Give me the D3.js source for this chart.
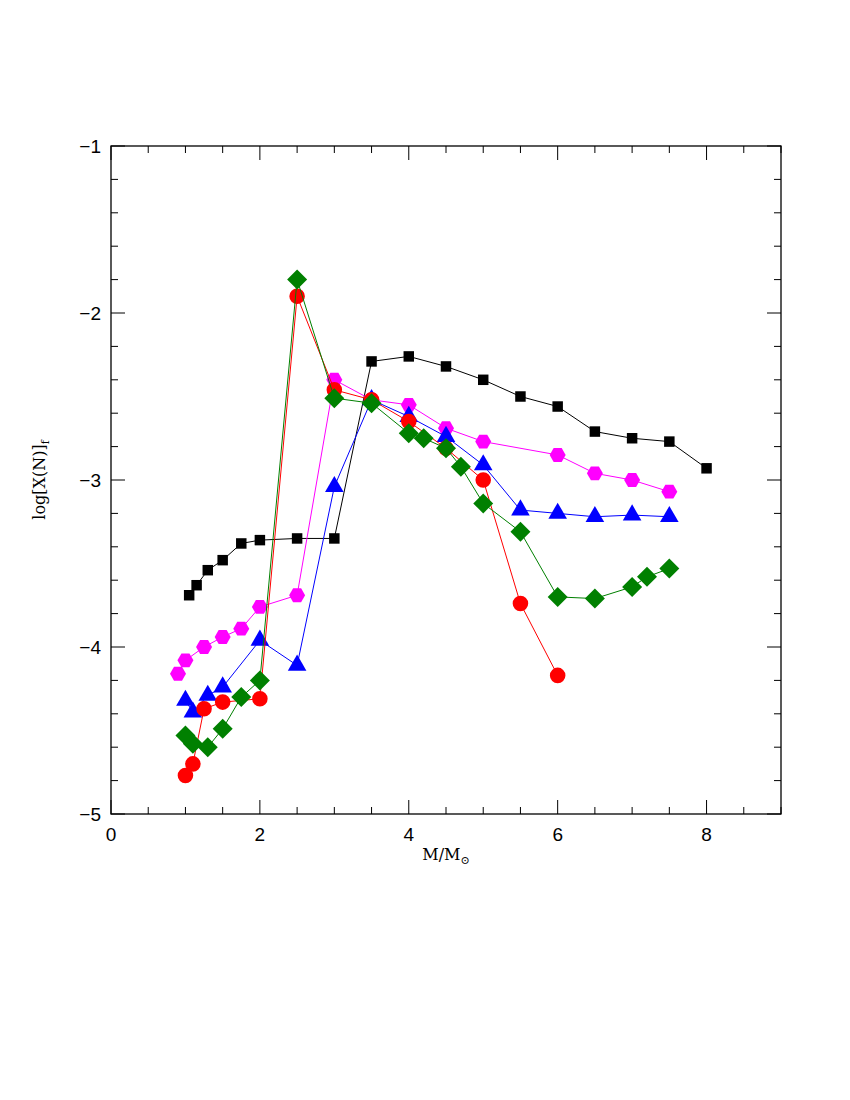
<!DOCTYPE html>
<html><head><meta charset="utf-8">
<script src="https://cdn.jsdelivr.net/npm/d3@7"></script>
<style>body{margin:0;background:#fff}</style></head>
<body><svg id="c" width="850" height="1100"></svg>
<script>
const blackX=[1.05,1.15,1.3,1.5,1.75,2,2.5,3,3.5,4,4.5,5,5.5,6,6.5,7,7.5,8];
const blackY=[-3.69,-3.63,-3.54,-3.48,-3.38,-3.36,-3.35,-3.35,-2.29,-2.26,-2.32,-2.40,-2.50,-2.56,-2.71,-2.75,-2.77,-2.93];
const magX=[0.9,1.0,1.25,1.5,1.75,2,2.5,3,3.5,4,4.5,5,6,6.5,7,7.5];
const magY=[-4.16,-4.08,-4.0,-3.94,-3.89,-3.76,-3.69,-2.40,-2.52,-2.55,-2.69,-2.77,-2.85,-2.96,-3.0,-3.07];
const bluX=[1.0,1.1,1.3,1.5,2,2.5,3,3.5,4,4.5,5,5.5,6,6.5,7,7.5];
const bluY=[-4.32,-4.39,-4.29,-4.24,-3.96,-4.11,-3.04,-2.52,-2.62,-2.74,-2.91,-3.18,-3.20,-3.22,-3.21,-3.22];
const redX=[1.0,1.1,1.25,1.5,2,2.5,3,3.5,4,4.5,5,5.5,6];
const redY=[-4.77,-4.70,-4.37,-4.33,-4.31,-1.90,-2.46,-2.52,-2.65,-2.81,-3.0,-3.74,-4.17];
const grnX=[1.0,1.1,1.3,1.5,1.75,2,2.5,3,3.5,4,4.2,4.5,4.7,5,5.5,6,6.5,7,7.2,7.5];
const grnY=[-4.53,-4.58,-4.60,-4.49,-4.30,-4.20,-1.80,-2.51,-2.54,-2.72,-2.75,-2.81,-2.92,-3.14,-3.31,-3.70,-3.71,-3.64,-3.58,-3.53];
const xTicks=[0,2,4,6,8], yTicks=[-5,-4,-3,-2,-1];

const svg=d3.select("#c");
const L=111,R=781,T=146,B=814;
const x=d3.scaleLinear().domain([0,9]).range([L,R]);
const y=d3.scaleLinear().domain([-5,-1]).range([B,T]);
svg.append("rect").attr("x",L).attr("y",T).attr("width",R-L).attr("height",B-T).attr("fill","none").attr("stroke","#000").attr("stroke-width",1.3);
const g=svg.append("g").attr("stroke","#000").attr("stroke-width",1);
d3.range(0,9.01,0.5).forEach(v=>{const len=(v%2===0)?14:7;const px=x(v);
 g.append("line").attr("x1",px).attr("x2",px).attr("y1",B).attr("y2",B-len);
 g.append("line").attr("x1",px).attr("x2",px).attr("y1",T).attr("y2",T+len);});
d3.range(-5,-0.99,0.2).forEach(v=>{const r=Math.round(v*5)/5;const len=(Math.abs(r-Math.round(r))<1e-6)?14:7;const py=y(r);
 g.append("line").attr("x1",L).attr("x2",L+len).attr("y1",py).attr("y2",py);
 g.append("line").attr("x1",R).attr("x2",R-len).attr("y1",py).attr("y2",py);});
const ff="Liberation Sans, Arial, sans-serif";
xTicks.forEach(v=>svg.append("text").attr("x",x(v)).attr("y",B+27).attr("text-anchor","middle").attr("font-family",ff).attr("font-size",19).text(v));
yTicks.forEach(v=>svg.append("text").attr("x",L-10).attr("y",y(v)+7).attr("text-anchor","end").attr("font-family",ff).attr("font-size",19).text("\u2212"+Math.abs(v)));
const sf="DejaVu Serif, serif";
const xt=svg.append("text").attr("x",x(4.5)).attr("y",B+46).attr("text-anchor","middle").attr("font-family",sf).attr("font-size",16);
xt.append("tspan").text("M/M");xt.append("tspan").attr("font-size",11).attr("dy",4).text("\u2299");
const yt=svg.append("text").attr("transform",`translate(${L-66},${(T+B)/2}) rotate(-90)`).attr("text-anchor","middle").attr("font-family",sf).attr("font-size",16);
yt.append("tspan").text("log[X(N)]");yt.append("tspan").attr("font-size",11).attr("dy",4).text("f");

function series(xs,ys,col,sym){
 const pts=xs.map((v,i)=>[x(v),y(ys[i])]);
 svg.append("path").attr("d",d3.line()(pts)).attr("fill","none").attr("stroke",col).attr("stroke-width",1);
 svg.append("g").selectAll("path").data(pts).join("path").attr("transform",d=>`translate(${d[0]},${d[1]})`)
  .attr("d",sym).attr("fill",col);
}
const hex=r=>{let p=[];for(let i=0;i<6;i++){const a=Math.PI/3*i;p.push([r*Math.cos(a),r*Math.sin(a)]);}return "M"+p.join("L")+"Z";};
series(blackX,blackY,"#000",d3.symbol().type(d3.symbolSquare).size(110)());
series(magX,magY,"#ff00ff",hex(8));
series(bluX,bluY,"#0000ff",d3.symbol().type(d3.symbolTriangle).size(150)());
series(redX,redY,"#ff0000",d3.symbol().type(d3.symbolCircle).size(190)());
series(grnX,grnY,"#008000","M0,-10L10,0L0,10L-10,0Z");
</script></body></html>
